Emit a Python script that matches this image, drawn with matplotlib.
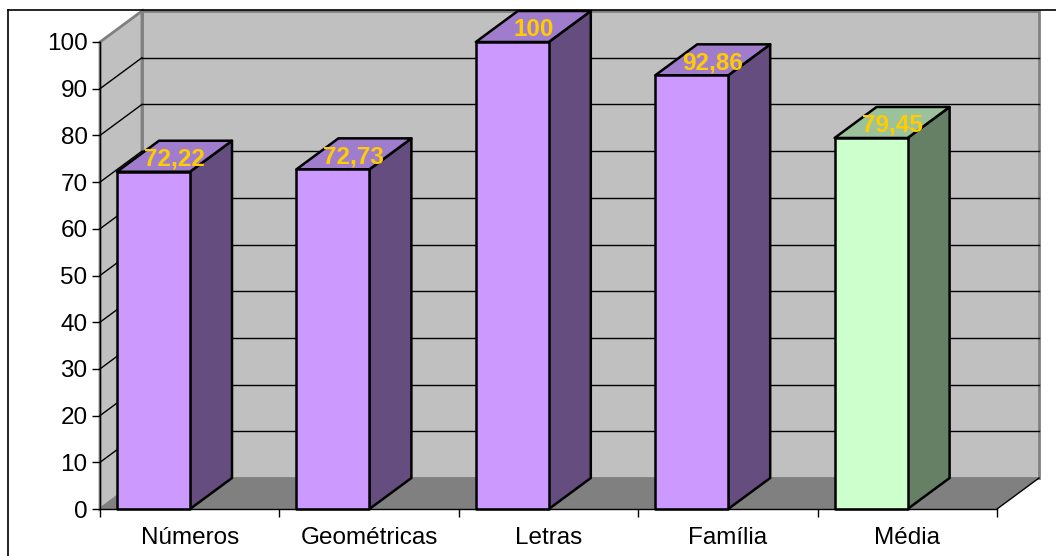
import matplotlib
matplotlib.use("Agg")
import matplotlib.pyplot as plt
from matplotlib.patches import Polygon
from matplotlib.lines import Line2D

plt.rcParams['font.family'] = ['Liberation Sans', 'DejaVu Sans']

# data
categories = ['Números', 'Geométricas', 'Letras', 'Família', 'Média']
values = [72.22, 72.73, 100, 92.86, 79.45]
value_labels = ['72,22', '72,73', '100', '92,86', '79,45']

# colours (front, side, top)
purple = ('#CC99FF', '#654D80', '#A07CCC')
green = ('#CCFFCC', '#668066', '#9CC29C')
bar_colors = [purple, purple, purple, purple, green]

W, H = 1056, 556
fig = plt.figure(figsize=(W / 100, H / 100), dpi=100)
fig.patch.set_facecolor('white')

# front plane of the 3D box, in pixels
left_px, right_px, top_px, bottom_px = 100, 997, 42, 509
ax = fig.add_axes([left_px / W, 1 - bottom_px / H,
                   (right_px - left_px) / W, (bottom_px - top_px) / H])
ax.set_xlim(0, len(categories))
ax.set_ylim(0, 100)
ax.patch.set_visible(False)

# depth offset (data units)
cat_px = (right_px - left_px) / len(categories)
px_per_val = (bottom_px - top_px) / 100
dx = 42 / cat_px
dy = 31 / px_per_val
n = len(categories)

# back wall
ax.add_patch(Polygon([(dx, dy), (n + dx, dy), (n + dx, 100 + dy), (dx, 100 + dy)],
                     closed=True, facecolor='#C0C0C0', edgecolor='#808080',
                     lw=2, clip_on=False, zorder=0))
# side wall
ax.add_patch(Polygon([(0, 0), (dx, dy), (dx, 100 + dy), (0, 100)],
                     closed=True, facecolor='#C0C0C0', edgecolor='#808080',
                     lw=2, clip_on=False, zorder=0))
# floor
ax.add_patch(Polygon([(0, 0), (n, 0), (n + dx, dy), (dx, dy)],
                     closed=True, facecolor='#808080', edgecolor='none',
                     clip_on=False, zorder=1))
ax.plot([n, n + dx], [0, dy], color='black', lw=1, clip_on=False, zorder=1)

# gridlines on back and side walls
for v in range(10, 100, 10):
    ax.plot([dx, n + dx], [v + dy, v + dy], color='black', lw=1,
            clip_on=False, zorder=1)
    ax.plot([0, dx], [v, v + dy], color='black', lw=1,
            clip_on=False, zorder=1)

# bars
off = 17 / cat_px
bw = 73 / cat_px
for i, v in enumerate(values):
    front, side, top = bar_colors[i]
    x0 = i + off
    x1 = x0 + bw
    ax.add_patch(Polygon([(x1, 0), (x1 + dx, dy), (x1 + dx, v + dy), (x1, v)],
                         closed=True, facecolor=side, edgecolor='black',
                         lw=1.8, clip_on=False, zorder=3, joinstyle='round'))
    ax.add_patch(Polygon([(x0, v), (x0 + dx, v + dy), (x1 + dx, v + dy), (x1, v)],
                         closed=True, facecolor=top, edgecolor='black',
                         lw=1.8, clip_on=False, zorder=3, joinstyle='round'))
    ax.add_patch(Polygon([(x0, 0), (x1, 0), (x1, v), (x0, v)],
                         closed=True, facecolor=front, edgecolor='black',
                         lw=1.8, clip_on=False, zorder=4, joinstyle='round'))
    ax.text((x0 + x1) / 2 + dx / 2, v + dy / 2 - 3 / px_per_val, value_labels[i],
            ha='center', va='center', color='#FFCC00', fontsize=17.5,
            fontweight='bold', zorder=6, clip_on=False)

# axes
for s in ['top', 'right']:
    ax.spines[s].set_visible(False)
for s in ['left', 'bottom']:
    ax.spines[s].set_color('black')
    ax.spines[s].set_linewidth(1)
    ax.spines[s].set_zorder(5)

ax.set_yticks(range(0, 101, 10))
ax.tick_params(axis='y', length=6, width=1, pad=3, labelsize=17.5, colors='black')
ax.set_xticks([i + 0.5 for i in range(n)])
ax.set_xticklabels(categories)
ax.set_xticks(range(n + 1), minor=True)
ax.tick_params(axis='x', which='major', length=0, pad=13, labelsize=17.5)
ax.tick_params(axis='x', which='minor', length=6, width=1)

# outer chart frame (extends beyond the image on right and bottom)
fig.add_artist(Line2D([8 / W, 8 / W], [0, 1 - 10 / H], color='black', lw=1.2))
fig.add_artist(Line2D([8 / W, 1], [1 - 10 / H, 1 - 10 / H], color='black', lw=1.2))

fig.savefig('out.png', dpi=100)
